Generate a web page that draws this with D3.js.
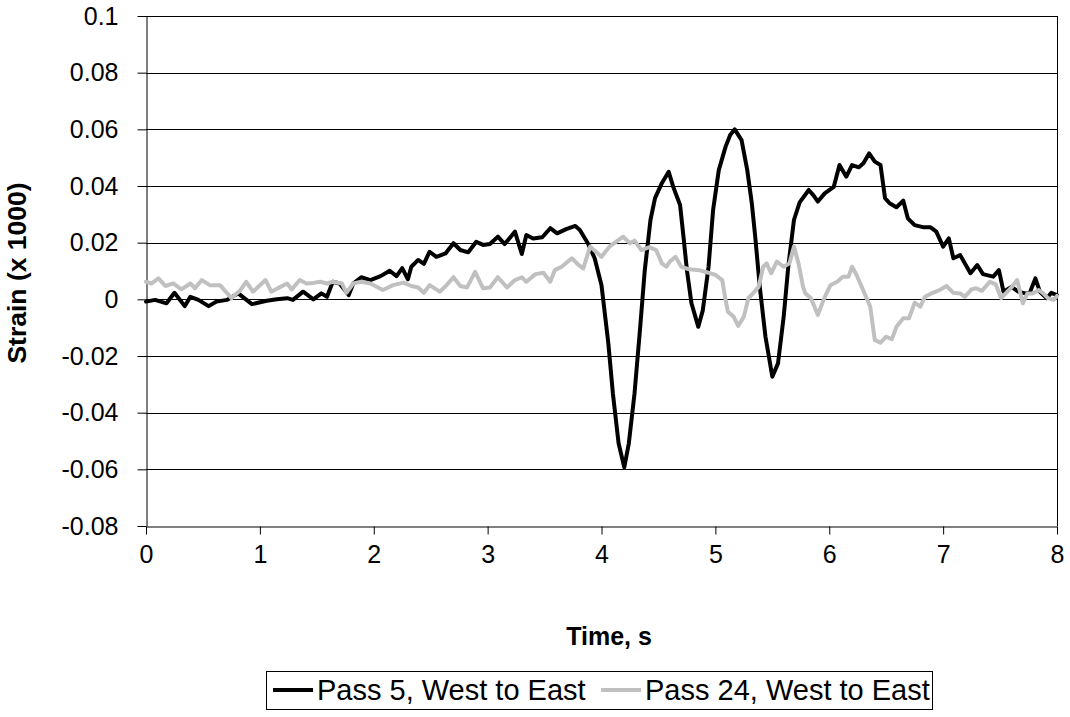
<!DOCTYPE html>
<html>
<head>
<meta charset="utf-8">
<script src="https://cdn.jsdelivr.net/npm/d3@7"></script>
<style>
  html, body { margin: 0; padding: 0; background: #fff; }
  svg { display: block; font-family: "Liberation Sans", Arial, sans-serif; }
</style>
</head>
<body>
<svg id="chart" width="1070" height="717"></svg>
<script>
// Strain gauge record, two passes of the vehicle (time in s, strain x 1000)
const pass5Time = [0, 0.08, 0.18, 0.25, 0.34, 0.39, 0.46, 0.55, 0.62, 0.71, 0.81, 0.93, 1.06, 1.15, 1.24, 1.29, 1.38, 1.47, 1.54, 1.59, 1.64, 1.70, 1.78, 1.82, 1.89, 1.97,
  2.06, 2.14, 2.20, 2.25, 2.30, 2.33, 2.39, 2.44, 2.49, 2.55, 2.63, 2.70, 2.76, 2.83, 2.90, 2.96, 3.02, 3.09, 3.15, 3.24, 3.30, 3.34, 3.40, 3.48, 3.55, 3.61, 3.69, 3.77, 3.81, 3.88,
  3.94, 4.00, 4.06, 4.10, 4.15, 4.20, 4.24, 4.29, 4.34, 4.38, 4.43, 4.47, 4.53, 4.59, 4.63, 4.69, 4.72, 4.75, 4.79, 4.85, 4.89, 4.94, 4.98, 5.03, 5.09, 5.13, 5.17, 5.23, 5.28, 5.32,
  5.35, 5.39, 5.44, 5.50, 5.55, 5.60, 5.64, 5.69, 5.74, 5.82, 5.86, 5.90, 5.96, 6.04, 6.09, 6.15, 6.20, 6.26, 6.30, 6.35, 6.40, 6.45, 6.49, 6.53, 6.59, 6.65, 6.69, 6.75, 6.83, 6.89,
  6.94, 7.00, 7.05, 7.09, 7.15, 7.24, 7.30, 7.35, 7.44, 7.49, 7.53, 7.60, 7.66, 7.72, 7.76, 7.81, 7.85, 7.91, 7.95, 8.00];
const pass5Strain = [-0.0008, -0.0002, -0.0014, 0.0023, -0.0024, 0.0009, -0.0002, -0.0024, -0.0008, -0.0002, 0.0021, -0.0017, -0.0005, 0, 0.0004, -0.0002, 0.0027, 0, 0.0021, 0.0009, 0.0062, 0.0056, 0.0015, 0.0056, 0.0078, 0.0068,
  0.0082, 0.0101, 0.0082, 0.0110, 0.0071, 0.0115, 0.0139, 0.0125, 0.0168, 0.0150, 0.0162, 0.0198, 0.0174, 0.0166, 0.0203, 0.0192, 0.0195, 0.0221, 0.0195, 0.0239, 0.0160, 0.0227, 0.0215, 0.0219, 0.0251, 0.0233, 0.0248, 0.0259, 0.0245, 0.0198,
  0.0145, 0.0050, -0.0155, -0.0332, -0.0508, -0.0593, -0.0508, -0.0332, -0.0097, 0.0103, 0.0280, 0.0357, 0.0410, 0.0450, 0.0397, 0.0333, 0.0221, 0.0103, -0.0014, -0.0097, -0.0038, 0.0115, 0.0315, 0.0456, 0.0539, 0.0580, 0.0600, 0.0562, 0.0456, 0.0339,
  0.0221, 0.0044, -0.0132, -0.0273, -0.0226, -0.0061, 0.0115, 0.0280, 0.0342, 0.0386, 0.0368, 0.0345, 0.0374, 0.0397, 0.0474, 0.0433, 0.0474, 0.0466, 0.0480, 0.0515, 0.0486, 0.0474, 0.0357, 0.0339, 0.0325, 0.0348, 0.0286, 0.0262, 0.0254, 0.0254,
  0.0239, 0.0186, 0.0215, 0.0145, 0.0156, 0.0092, 0.0121, 0.0089, 0.0080, 0.0103, 0.0027, 0.0044, 0.0027, 0.0021, 0.0022, 0.0074, 0.0027, 0.0004, 0.0023, 0.0015];

const pass24Time = [0, 0.05, 0.11, 0.17, 0.24, 0.31, 0.39, 0.43, 0.49, 0.56, 0.65, 0.71, 0.75, 0.83, 0.88, 0.94, 1.05, 1.10, 1.18, 1.24, 1.28, 1.35, 1.41, 1.47, 1.53, 1.59, 1.64, 1.72, 1.76, 1.82, 1.89, 1.97,
  2.08, 2.17, 2.26, 2.33, 2.39, 2.44, 2.49, 2.58, 2.64, 2.70, 2.76, 2.82, 2.89, 2.96, 3.02, 3.09, 3.17, 3.24, 3.30, 3.34, 3.42, 3.49, 3.55, 3.59, 3.65, 3.74, 3.80, 3.84, 3.90, 4.00,
  4.07, 4.19, 4.25, 4.29, 4.35, 4.42, 4.48, 4.53, 4.57, 4.60, 4.65, 4.70, 4.77, 4.86, 4.94, 5.00, 5.06, 5.09, 5.11, 5.16, 5.20, 5.25, 5.29, 5.33, 5.38, 5.42, 5.45, 5.49, 5.54, 5.60, 5.65, 5.69, 5.73,
  5.77, 5.79, 5.84, 5.90, 5.95, 6.01, 6.07, 6.12, 6.17, 6.20, 6.24, 6.31, 6.36, 6.40, 6.45, 6.50, 6.55, 6.59, 6.65, 6.70, 6.75, 6.80, 6.84, 6.91, 6.97, 7.03, 7.09, 7.15, 7.19, 7.25, 7.29, 7.34,
  7.41, 7.46, 7.51, 7.55, 7.60, 7.65, 7.70, 7.74, 7.79, 7.84, 7.88, 7.92, 7.97, 8.00];
const pass24Strain = [0.0062, 0.0056, 0.0074, 0.0047, 0.0056, 0.0035, 0.0056, 0.0039, 0.0068, 0.0050, 0.0050, 0.0023, 0.0004, 0.0033, 0.0062, 0.0027, 0.0068, 0.0027, 0.0044, 0.0056, 0.0035, 0.0068, 0.0056, 0.0058, 0.0062, 0.0056, 0.0062, 0.0056, 0.0023, 0.0056, 0.0062, 0.0056,
  0.0033, 0.0050, 0.0059, 0.0047, 0.0042, 0.0023, 0.0050, 0.0027, 0.0050, 0.0078, 0.0047, 0.0042, 0.0097, 0.0039, 0.0042, 0.0078, 0.0042, 0.0068, 0.0078, 0.0062, 0.0089, 0.0094, 0.0062, 0.0103, 0.0115, 0.0145, 0.0121, 0.0109, 0.0186, 0.0150,
  0.0186, 0.0221, 0.0198, 0.0207, 0.0174, 0.0184, 0.0174, 0.0127, 0.0115, 0.0133, 0.0150, 0.0115, 0.0106, 0.0103, 0.0094, 0.0086, 0.0068, -0.0002, -0.0044, -0.0061, -0.0094, -0.0061, 0.0004, 0.0021, 0.0044, 0.0115, 0.0127, 0.0092, 0.0133, 0.0115, 0.0127, 0.0186, 0.0127,
  0.0044, 0.0021, 0.0004, -0.0055, -0.0002, 0.0050, 0.0062, 0.0080, 0.0080, 0.0115, 0.0086, 0.0021, -0.0026, -0.0144, -0.0153, -0.0132, -0.0141, -0.0097, -0.0067, -0.0067, -0.0012, -0.0026, 0.0009, 0.0023, 0.0033, 0.0047, 0.0023, 0.0021, 0.0009, 0.0035, 0.0039, 0.0030,
  0.0062, 0.0054, 0.0004, 0.0021, 0.0042, 0.0068, -0.0014, 0.0021, 0.0021, 0.0033, 0.0021, 0.0004, -0.0002, 0.0012];

const xTicks = [0, 1, 2, 3, 4, 5, 6, 7, 8];
const yTicks = [-0.08, -0.06, -0.04, -0.02, 0, 0.02, 0.04, 0.06, 0.08, 0.1];
const seriesNames = ["Pass 5, West to East", "Pass 24, West to East"];
const seriesColors = ["#000000", "#c0c0c0"];

const svg = d3.select("#chart");
const plotLeft = 146, plotRight = 1057, plotTop = 16, plotBottom = 526;

const x = d3.scaleLinear().domain([0, 8]).range([plotLeft, plotRight]);
const y = d3.scaleLinear().domain([-0.08, 0.1]).range([plotBottom, plotTop]);

// horizontal gridlines
svg.append("g")
  .selectAll("line")
  .data(yTicks.filter(v => v > -0.08))
  .join("line")
  .attr("x1", plotLeft).attr("x2", plotRight)
  .attr("y1", d => Math.round(y(d)) + 0.5).attr("y2", d => Math.round(y(d)) + 0.5)
  .attr("stroke", "#000").attr("stroke-width", 1);

// right edge of the plot area
svg.append("line")
  .attr("x1", plotRight + 0.5).attr("x2", plotRight + 0.5)
  .attr("y1", plotTop).attr("y2", plotBottom)
  .attr("stroke", "#000");

// axes
const fmt = v => String(+v.toFixed(2));
const yAxis = svg.append("g")
  .attr("transform", `translate(${plotLeft + 0.5},0)`)
  .call(d3.axisLeft(y).tickValues(yTicks).tickFormat(fmt).tickSizeInner(9).tickSizeOuter(0).tickPadding(19));
const xAxis = svg.append("g")
  .attr("transform", `translate(0,${plotBottom + 0.5})`)
  .call(d3.axisBottom(x).tickValues(xTicks).tickFormat(d3.format("d")).tickSizeInner(8).tickSizeOuter(0).tickPadding(11));

[yAxis, xAxis].forEach(g => {
  g.select(".domain").attr("stroke", "#000");
  g.selectAll(".tick line").attr("stroke", "#000");
  g.selectAll(".tick text")
    .attr("fill", "#000")
    .style("font-family", "Liberation Sans, Arial, sans-serif")
    .style("font-size", "25px");
});

// axis titles
svg.append("text")
  .attr("x", 609).attr("y", 645)
  .attr("text-anchor", "middle")
  .style("font-size", "25px").style("font-weight", "bold")
  .text("Time, s");

svg.append("text")
  .attr("transform", `translate(17,273) rotate(-90)`)
  .attr("text-anchor", "middle")
  .attr("dy", "0.35em")
  .style("font-size", "26.5px").style("font-weight", "bold")
  .text("Strain (x 1000)");

// data lines
const line = d3.line().x(d => x(d[0])).y(d => y(d[1]));
const series = [
  d3.zip(pass5Time, pass5Strain),
  d3.zip(pass24Time, pass24Strain)
];
svg.append("g")
  .selectAll("path")
  .data(series)
  .join("path")
  .attr("d", line)
  .attr("fill", "none")
  .attr("stroke", (d, i) => seriesColors[i])
  .attr("stroke-width", 4)
  .attr("stroke-linejoin", "round")
  .attr("stroke-linecap", "round");

// legend: sample line + label per series
const legend = svg.append("g");
legend.append("rect")
  .attr("x", 266.5).attr("y", 671.5).attr("width", 666).attr("height", 38)
  .attr("fill", "#fff").attr("stroke", "#000");
const legendX = [273, 601];
seriesNames.forEach((name, i) => {
  legend.append("line")
    .attr("x1", legendX[i]).attr("x2", legendX[i] + 40)
    .attr("y1", 690).attr("y2", 690)
    .attr("stroke", seriesColors[i]).attr("stroke-width", 4);
  legend.append("text")
    .attr("x", legendX[i] + 44).attr("y", 700)
    .style("font-size", "29px")
    .text(name);
});
</script>
</body>
</html>
